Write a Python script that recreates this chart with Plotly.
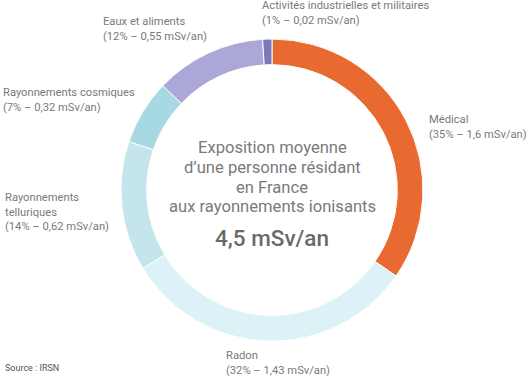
import plotly.graph_objects as go

W, H = 530, 376

categories = ["Médical", "Radon", "Rayonnements telluriques", "Rayonnements cosmiques",
              "Eaux et aliments", "Activités industrielles et militaires"]
percents = [35, 32, 14, 7, 12, 1]
doses = ["1,6", "1,43", "0,62", "0,32", "0,55", "0,02"]
colors = ["#E86A30", "#DDF2F6", "#C3E5EB", "#A7D9E3", "#ABA7D7", "#7D79B9"]

label_names = ["Médical", "Radon", "Rayonnements<br>telluriques", "Rayonnements cosmiques",
               "Eaux et aliments", "Activités industrielles et militaires"]
# label anchor positions in pixels (left, top)
label_pos = [(427, 111), (224, 347), (3, 189), (1, 84), (101, 13), (260, -3)]

total_text = "4,5 mSv/an"
center_lines = ["Exposition moyenne", "d’une personne résidant", "en France",
                "aux rayonnements ionisants"]
center_line_y = [147, 167, 187, 206]

cx, cy, R = 272, 190, 151
fig = go.Figure(go.Pie(
    labels=categories, values=percents, sort=False, direction="clockwise",
    rotation=0, hole=0.83,
    marker=dict(colors=colors, line=dict(color="white", width=1)),
    textinfo="none", hoverinfo="label+percent", showlegend=False,
    domain=dict(x=[(cx - R) / W, (cx + R) / W], y=[(H - cy - R) / H, (H - cy + R) / H]),
))

annotations = []
for name, p, d, (px, py) in zip(label_names, percents, doses, label_pos):
    annotations.append(dict(
        text=f"{name}<br>({p}% – {d} mSv/an)", x=px / W, y=1 - py / H,
        xref="paper", yref="paper", xanchor="left", yanchor="top", align="left",
        showarrow=False, font=dict(family="Roboto", size=11.2, color="#7a7a7a")))

for line, ly in zip(center_lines, center_line_y):
    annotations.append(dict(
        text=line, x=cx / W, y=1 - ly / H, xref="paper", yref="paper",
        xanchor="center", yanchor="middle", align="center", showarrow=False,
        font=dict(family="Roboto", size=16.6, color="#7a7a7a")))
annotations.append(dict(
    text=total_text, x=cx / W, y=1 - 238 / H, xref="paper", yref="paper",
    xanchor="center", yanchor="middle", showarrow=False,
    font=dict(family="Roboto", size=22.5, color="#6a6a6a", weight=500)))
annotations.append(dict(
    text="Source : IRSN", x=3 / W, y=1 - 368 / H, xref="paper", yref="paper",
    xanchor="left", yanchor="middle", showarrow=False,
    font=dict(family="Roboto", size=9, color="#555555")))

fig.update_layout(
    width=W, height=H, margin=dict(l=0, r=0, t=0, b=0),
    paper_bgcolor="white", plot_bgcolor="white",
    annotations=annotations,
)

fig.write_html("out.html", config={"displayModeBar": False},
               post_script="document.body.style.margin='0';document.body.style.padding='0';")
